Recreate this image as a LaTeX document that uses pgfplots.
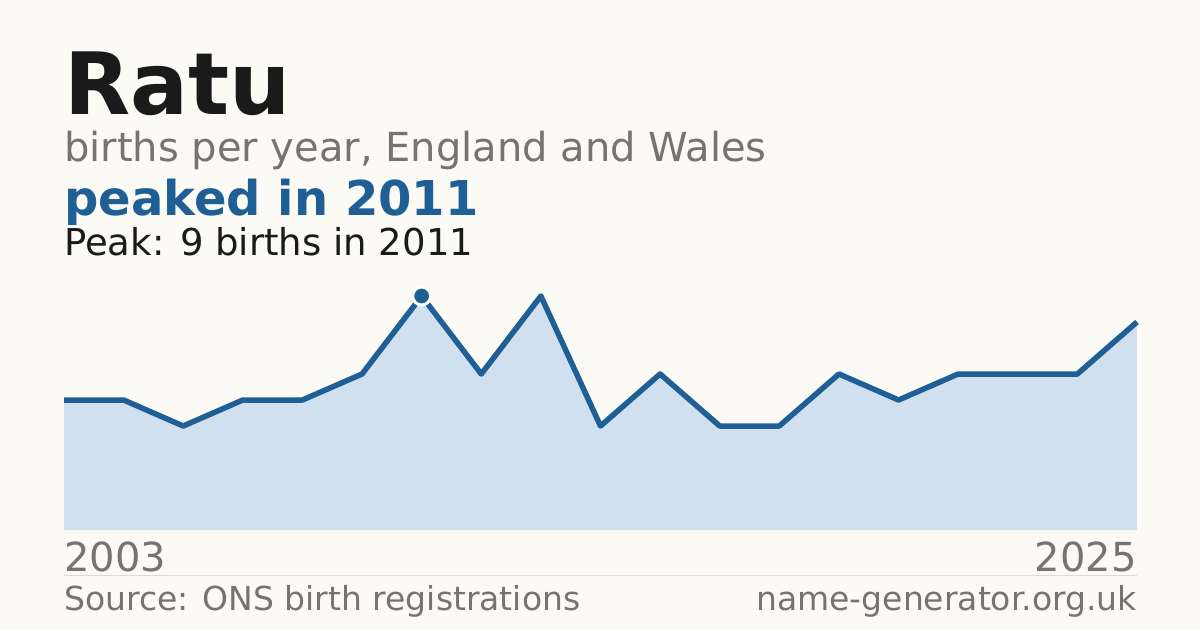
\documentclass[border=0pt]{standalone}
\usepackage{pgfplots}
\pgfplotsset{compat=1.18}
\usepackage{fontspec}
\setmainfont{DejaVu Sans}
\definecolor{bg}{HTML}{FBFAF5}
\definecolor{ink}{HTML}{1A1A1A}
\definecolor{muted}{HTML}{77736D}
\definecolor{accent}{HTML}{1F5F96}
\definecolor{areafill}{HTML}{D0E0EF}
\definecolor{rule}{HTML}{DDDAD3}
\newcommand{\fs}[1]{\fontsize{#1}{#1}\selectfont}
\begin{document}
\begin{tikzpicture}[x=1pt,y=1pt]
  \fill[bg] (0,0) rectangle (1200,630);
  \useasboundingbox (0,0) rectangle (1200,630);
  % headings, y measured from the top of the image
  \node[anchor=base west, inner sep=0, text=ink] at (64,630-115) {\fs{86}\bfseries Ratu};
  \node[anchor=base west, inner sep=0, text=muted] at (64,630-162) {\fs{40}births per year, England and Wales};
  \node[anchor=base west, inner sep=0, text=accent] at (64,630-216) {\fs{48}\bfseries peaked in 2011};
  \node[anchor=base west, inner sep=0, text=ink] at (64,630-256) {\fs{37}Peak: 9 births in 2011};
  \begin{axis}[
      at={(64pt,100pt)}, anchor=south west,
      scale only axis, width=1073pt, height=234pt,
      xmin=0, xmax=18, ymin=0, ymax=9,
      axis lines=none, ticks=none, clip=false]
    \addplot[fill=areafill, draw=none] coordinates
      {(0,5) (1,5) (2,4) (3,5) (4,5) (5,6) (6,9) (7,6) (8,9) (9,4)
       (10,6) (11,4) (12,4) (13,6) (14,5) (15,6) (16,6) (17,6) (18,8)}
      \closedcycle;
    \addplot[accent, line width=5.5pt, line join=round] coordinates
      {(0,5) (1,5) (2,4) (3,5) (4,5) (5,6) (6,9) (7,6) (8,9) (9,4)
       (10,6) (11,4) (12,4) (13,6) (14,5) (15,6) (16,6) (17,6) (18,8)};
    \addplot[only marks, mark=*, mark size=9pt,
      mark options={fill=accent, draw=white, line width=3pt}] coordinates {(6,9)};
    \node[anchor=north west, inner sep=0, text=muted] at (axis cs:0,0) [yshift=-12pt] {\fs{40}2003};
    \node[anchor=north east, inner sep=0, text=muted] at (axis cs:18,0) [yshift=-12pt] {\fs{40}2025};
  \end{axis}
  \draw[rule, line width=1pt] (64,630-575) -- (1137,630-575);
  \node[anchor=base west, inner sep=0, text=muted] at (64,630-610) {\fs{33}Source: ONS birth registrations};
  \node[anchor=base east, inner sep=0, text=muted] at (1137,630-610) {\fs{33}name-generator.org.uk};
\end{tikzpicture}
\end{document}
